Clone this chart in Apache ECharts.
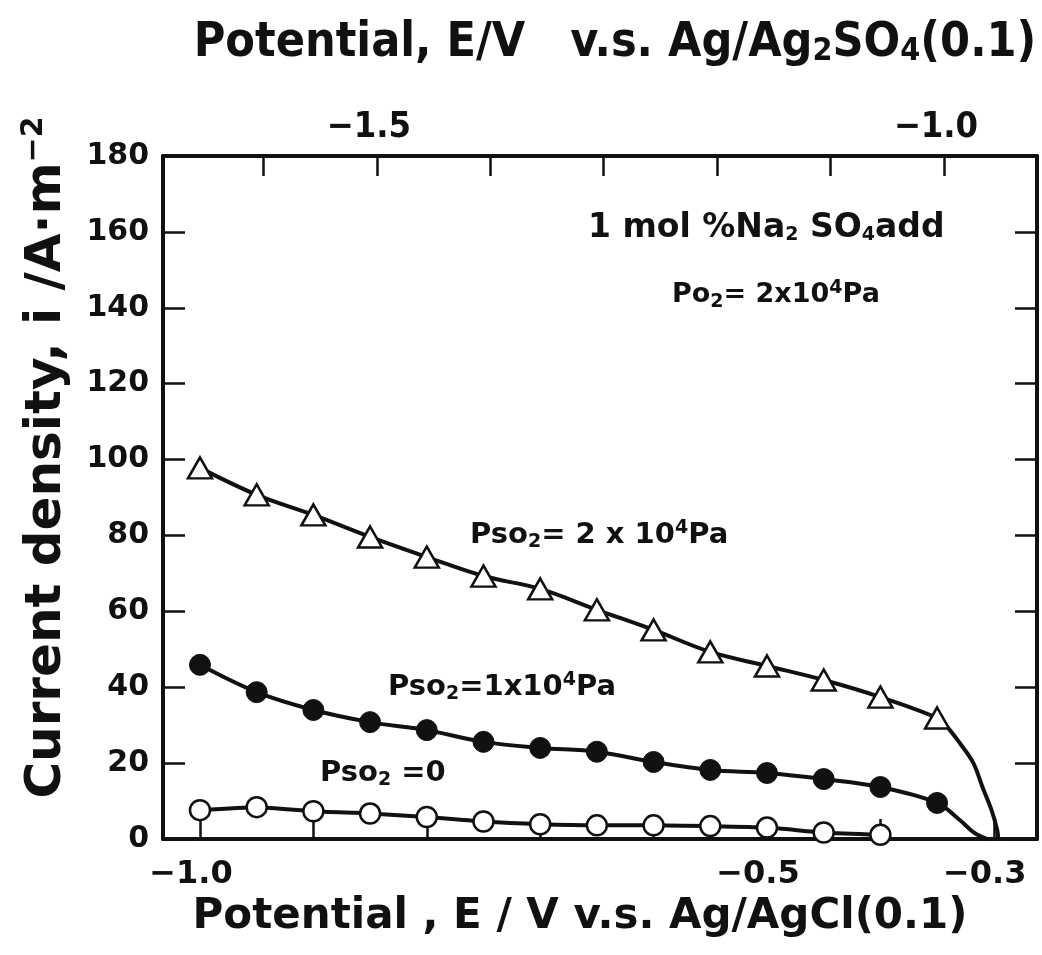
<!DOCTYPE html>
<html>
<head>
<meta charset="utf-8">
<script src="https://cdn.jsdelivr.net/npm/echarts@6/dist/echarts.min.js"></script>
<style>
  html, body { margin: 0; padding: 0; background: #fff; }
  #chart { width: 1042px; height: 955px; }
</style>
</head>
<body>
<div id="chart"></div>
<script>
// Potential (V vs Ag/AgCl) of the measured points
const potential = [-1.00, -0.95, -0.90, -0.85, -0.80, -0.75, -0.70, -0.65, -0.60, -0.55, -0.50, -0.45, -0.40, -0.35];

// Current density (A/m2), PSO2 = 2x10^4 Pa, plus the curve running down to zero current
const iHigh = [97.8, 90.7, 85.4, 79.6, 74.3, 69.3, 65.9, 60.4, 55.1, 49.3, 45.6, 41.9, 37.4, 31.9];
const tailHighE = [-0.341, -0.330, -0.318, -0.310, -0.302, -0.297, -0.296];
const tailHighI = [29.5, 25.3, 20.0, 13.7, 7.6, 2.4, 0];

// Current density (A/m2), PSO2 = 1x10^4 Pa, plus the curve running down to zero current
const iMid = [45.9, 38.7, 34.0, 30.8, 28.7, 25.6, 24.0, 23.0, 20.3, 18.2, 17.4, 15.8, 13.7, 9.5];
const tailMidE = [-0.330, -0.318, -0.310, -0.306];
const tailMidI = [5.0, 1.8, 0.5, 0];

// Current density (A/m2), PSO2 = 0 (measured up to -0.40 V)
const iZero = [7.6, 8.4, 7.3, 6.7, 5.8, 4.6, 3.9, 3.6, 3.6, 3.4, 3.0, 1.7, 1.1];

// Axis ticks and labels
const bottomTicks = [-1.0, -0.9, -0.8, -0.7, -0.6, -0.5, -0.4, -0.3];
const bottomLabels = [-1.0, -0.5, -0.3];
const topTicks = [-1.6, -1.5, -1.4, -1.3, -1.2, -1.1, -1.0];
const topLabels = [-1.5, -1.0];
const yTicks = [0, 20, 40, 60, 80, 100, 120, 140, 160, 180];

// Ag/Ag2SO4 scale is offset from the Ag/AgCl scale
const bottomMin = -1.0326, bottomMax = -0.2619, refOffset = 0.656;

const FONT = '"DejaVu Sans", sans-serif';
const NARROW = '"Liberation Sans Narrow", "DejaVu Sans Condensed", "Liberation Sans", sans-serif';
const INK = '#111';

const fmt = v => v.toFixed(1).replace('-', '\u2212');

function pairs(es, is) { return es.map((e, k) => [e, is[k]]); }
function tail(es, is) { return es.map((e, k) => ({ value: [e, is[k]], symbol: 'none' })); }

const subRich = {
  sub: { fontFamily: FONT, fontWeight: 'bold', fontSize: 19, verticalAlign: 'bottom', padding: [14, 0, 0, 0], fill: INK },
  sup: { fontFamily: FONT, fontWeight: 'bold', fontSize: 19, verticalAlign: 'top', padding: [0, 0, 14, 0], fill: INK }
};

function note(x, y, text, size) {
  return {
    type: 'text', x: x, y: y, z: 50,
    style: {
      text: text, fontFamily: FONT, fontWeight: 'bold', fontSize: size, fill: INK,
      align: 'left', verticalAlign: 'middle', rich: subRich
    }
  };
}

const chart = echarts.init(document.getElementById('chart'), null, { renderer: 'canvas' });

const lineStyle = { color: INK, width: 4 };

chart.setOption({
  backgroundColor: '#fff',
  animation: false,
  grid: { left: 163, right: 5, top: 156, bottom: 116, containLabel: false, outerBoundsMode: 'none' },
  xAxis: [
    {
      type: 'value', position: 'bottom', min: bottomMin, max: bottomMax,
      name: 'Potential , E / V v.s. Ag/AgCl(0.1)',
      nameLocation: 'middle', nameGap: 56,
      nameTextStyle: { fontFamily: FONT, fontWeight: 'bold', fontSize: 42, color: INK, padding: [0, 40, 0, 0] },
      axisLine: { show: true, onZero: false, lineStyle: { color: INK, width: 4 } },
      axisTick: { show: true, inside: true, length: 20, customValues: bottomTicks, lineStyle: { color: INK, width: 2.5 } },
      axisLabel: {
        customValues: bottomLabels, formatter: fmt, margin: 20,
        fontFamily: FONT, fontWeight: 'bold', fontSize: 32, color: INK, padding: [0, 18, 0, 0]
      },
      splitLine: { show: false }
    },
    {
      type: 'value', position: 'top', min: bottomMin - refOffset, max: bottomMax - refOffset,
      name: 'Potential, E/V   v.s. Ag/Ag{sub|2}SO{sub|4}(0.1)',
      nameLocation: 'middle', nameGap: 88,
      nameTextStyle: {
        fontFamily: NARROW, fontWeight: 'bold', fontSize: 48, color: INK, verticalAlign: 'bottom', padding: [0, 0, 0, 30],
        rich: { sub: { fontFamily: NARROW, fontWeight: 'bold', fontSize: 32, verticalAlign: 'bottom', padding: [16, 0, 0, 0] } }
      },
      axisLine: { show: true, onZero: false, lineStyle: { color: INK, width: 4 } },
      axisTick: { show: true, inside: true, length: 20, customValues: topTicks, lineStyle: { color: INK, width: 2.5 } },
      axisLabel: {
        customValues: topLabels, formatter: fmt, margin: 10,
        fontFamily: NARROW, fontWeight: 'bold', fontSize: 36, color: INK, padding: [0, 16, 0, 0]
      },
      splitLine: { show: false }
    }
  ],
  yAxis: [
    {
      type: 'value', position: 'left', min: 0, max: 180, interval: 20,
      name: 'Current density, i /A\u00b7m{sup|\u22122}',
      nameLocation: 'middle', nameGap: 88,
      nameTextStyle: {
        fontFamily: FONT, fontWeight: 'bold', fontSize: 50, color: INK, padding: [0, 0, 0, 80],
        rich: { sup: { fontFamily: FONT, fontWeight: 'bold', fontSize: 30, verticalAlign: 'top', padding: [0, 0, 26, 0] } }
      },
      axisLine: { show: true, onZero: false, lineStyle: { color: INK, width: 4 } },
      axisTick: { show: true, inside: true, length: 22, lineStyle: { color: INK, width: 2.5 } },
      axisLabel: { margin: 14, fontFamily: FONT, fontWeight: 'bold', fontSize: 30, color: INK, customValues: yTicks },
      splitLine: { show: false }
    },
    {
      type: 'value', position: 'right', min: 0, max: 180, interval: 20,
      axisLine: { show: true, onZero: false, lineStyle: { color: INK, width: 4 } },
      axisTick: { show: true, inside: true, length: 22, lineStyle: { color: INK, width: 2.5 } },
      axisLabel: { show: false },
      splitLine: { show: false }
    }
  ],
  series: [
    {
      name: 'PSO2 = 2x10^4 Pa', type: 'line', xAxisIndex: 0, yAxisIndex: 0,
      data: pairs(potential, iHigh).concat(tail(tailHighE, tailHighI)),
      smooth: 0.35, symbol: 'triangle', symbolSize: [24, 21],
      itemStyle: { color: '#fff', borderColor: INK, borderWidth: 2.5 },
      lineStyle: lineStyle, clip: false, z: 3
    },
    {
      name: 'PSO2 = 1x10^4 Pa', type: 'line', xAxisIndex: 0, yAxisIndex: 0,
      data: pairs(potential, iMid).concat(tail(tailMidE, tailMidI)),
      smooth: 0.35, symbol: 'circle', symbolSize: 21,
      itemStyle: { color: INK, borderColor: INK, borderWidth: 1 },
      lineStyle: lineStyle, clip: false, z: 3
    },
    {
      name: 'PSO2 = 0', type: 'line', xAxisIndex: 0, yAxisIndex: 0,
      data: pairs(potential.slice(0, iZero.length), iZero),
      smooth: 0.2, symbol: 'circle', symbolSize: 20,
      itemStyle: { color: '#fff', borderColor: INK, borderWidth: 2.5 },
      lineStyle: lineStyle, clip: false, z: 3
    }
  ],
  graphic: [
    note(588, 228, '1 mol %Na{sub|2} SO{sub|4}add', 33),
    note(672, 295, 'Po{sub|2}= 2x10{sup|4}Pa', 27),
    note(470, 535, 'Pso{sub|2}= 2 x 10{sup|4}Pa', 29),
    note(388, 687, 'Pso{sub|2}=1x10{sup|4}Pa', 29),
    note(320, 773, 'Pso{sub|2} =0', 29)
  ]
});
</script>
</body>
</html>
